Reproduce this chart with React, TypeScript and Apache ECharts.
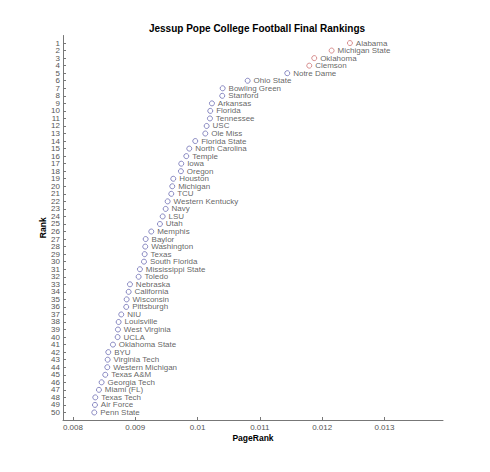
import React, { useEffect, useRef } from "react";
import * as echarts from "echarts";

const teams: string[] = [
  "Alabama", "Michigan State", "Oklahoma", "Clemson", "Notre Dame", "Ohio State",
  "Bowling Green", "Stanford", "Arkansas", "Florida", "Tennessee", "USC", "Ole Miss",
  "Florida State", "North Carolina", "Temple", "Iowa", "Oregon", "Houston", "Michigan",
  "TCU", "Western Kentucky", "Navy", "LSU", "Utah", "Memphis", "Baylor", "Washington",
  "Texas", "South Florida", "Mississippi State", "Toledo", "Nebraska", "California",
  "Wisconsin", "Pittsburgh", "NIU", "Louisville", "West Virginia", "UCLA",
  "Oklahoma State", "BYU", "Virginia Tech", "Western Michigan", "Texas A&M",
  "Georgia Tech", "Miami (FL)", "Texas Tech", "Air Force", "Penn State",
];

const pageRank: number[] = [
  0.012446, 0.012152, 0.011873, 0.011793, 0.01144, 0.010804,
  0.010403, 0.010396, 0.010231, 0.010204, 0.010199, 0.010146, 0.010124,
  0.009963, 0.009867, 0.009819, 0.009738, 0.009733, 0.00961, 0.009594,
  0.009578, 0.00952, 0.009488, 0.00944, 0.009396, 0.009257, 0.009167, 0.00916,
  0.009151, 0.00914, 0.009075, 0.009054, 0.008915, 0.008894,
  0.008862, 0.008855, 0.008775, 0.008733, 0.008722, 0.008717,
  0.008642, 0.008567, 0.008557, 0.008551, 0.008518,
  0.00846, 0.008417, 0.008358, 0.008353, 0.008342,
];

const topCount = 4;
const xTicks: number[] = [0.008, 0.009, 0.01, 0.011, 0.012, 0.013];
// rank axis slots 0..51; ranks 1..50 are labelled, the two end slots are blank padding
const rankLabels: string[] = ["", ...teams.map((_, i) => String(i + 1)), ""];

const FONT = "Liberation Sans, Arial, sans-serif";

export default function App() {
  const ref = useRef<HTMLDivElement>(null);
  useEffect(() => {
    if (!ref.current) return;
    const chart = echarts.init(ref.current, undefined, { renderer: "svg" });
    const mk = (from: number, to: number) =>
      teams.slice(from, to).map((t, i) => [pageRank[from + i], from + i + 1, t]);
    const labelCfg = {
      show: true,
      position: "right" as const,
      distance: 3,
      formatter: (p: any) => p.data[2],
      color: "#3a3a3a",
      fontSize: 8,
      lineHeight: 7,
      fontFamily: FONT,
    };
    const lastIdx = rankLabels.length - 1;
    chart.setOption({
      animation: false,
      backgroundColor: "#fff",
      title: {
        text: "Jessup Pope College Football Final Rankings",
        left: 252,
        top: 18,
        textAlign: "center",
        textStyle: { fontSize: 10, fontWeight: "bold", color: "#000", fontFamily: FONT },
      },
      grid: { left: 63, right: 47, top: 35.5, bottom: 52 },
      xAxis: {
        type: "value",
        min: 0.00784,
        max: 0.01394,
        name: "PageRank",
        nameLocation: "middle",
        nameGap: 13,
        nameMoveOverlap: false,
        nameTextStyle: { fontSize: 8.5, fontWeight: "bold", color: "#000", fontFamily: FONT },
        axisLine: { show: true, lineStyle: { color: "#777", width: 1 } },
        axisTick: { show: true, inside: true, length: 3, customValues: xTicks, lineStyle: { color: "#777" } },
        axisLabel: {
          customValues: xTicks,
          fontSize: 8,
          color: "#555",
          fontFamily: FONT,
          margin: 3,
          formatter: (v: number) => String(+v.toFixed(4)),
        },
        splitLine: { show: false },
      },
      yAxis: {
        type: "category",
        data: rankLabels,
        boundaryGap: false,
        inverse: true,
        name: "Rank",
        nameLocation: "middle",
        nameGap: 16,
        nameMoveOverlap: false,
        nameRotate: 90,
        nameTextStyle: { fontSize: 8.5, fontWeight: "bold", color: "#000", fontFamily: FONT },
        axisLine: { show: true, lineStyle: { color: "#777", width: 1 } },
        axisTick: {
          show: true,
          inside: true,
          length: 3,
          interval: (idx: number) => idx >= 1 && idx < lastIdx,
          lineStyle: { color: "#777" },
        },
        axisLabel: {
          interval: 0,
          fontSize: 8,
          lineHeight: 7,
          color: "#555",
          fontFamily: FONT,
          margin: 3,
        },
        splitLine: { show: false },
      },
      series: [
        {
          type: "scatter",
          symbol: "circle",
          symbolSize: 5,
          itemStyle: { color: "#fff", borderColor: "#c05050", borderWidth: 0.8 },
          label: labelCfg,
          data: mk(0, topCount),
        },
        {
          type: "scatter",
          symbol: "circle",
          symbolSize: 5,
          itemStyle: { color: "#fff", borderColor: "#4a4aa0", borderWidth: 0.8 },
          label: labelCfg,
          data: mk(topCount, teams.length),
        },
      ],
    });
    return () => chart.dispose();
  }, []);
  return <div ref={ref} style={{ width: 490, height: 472, margin: -8 }} />;
}
